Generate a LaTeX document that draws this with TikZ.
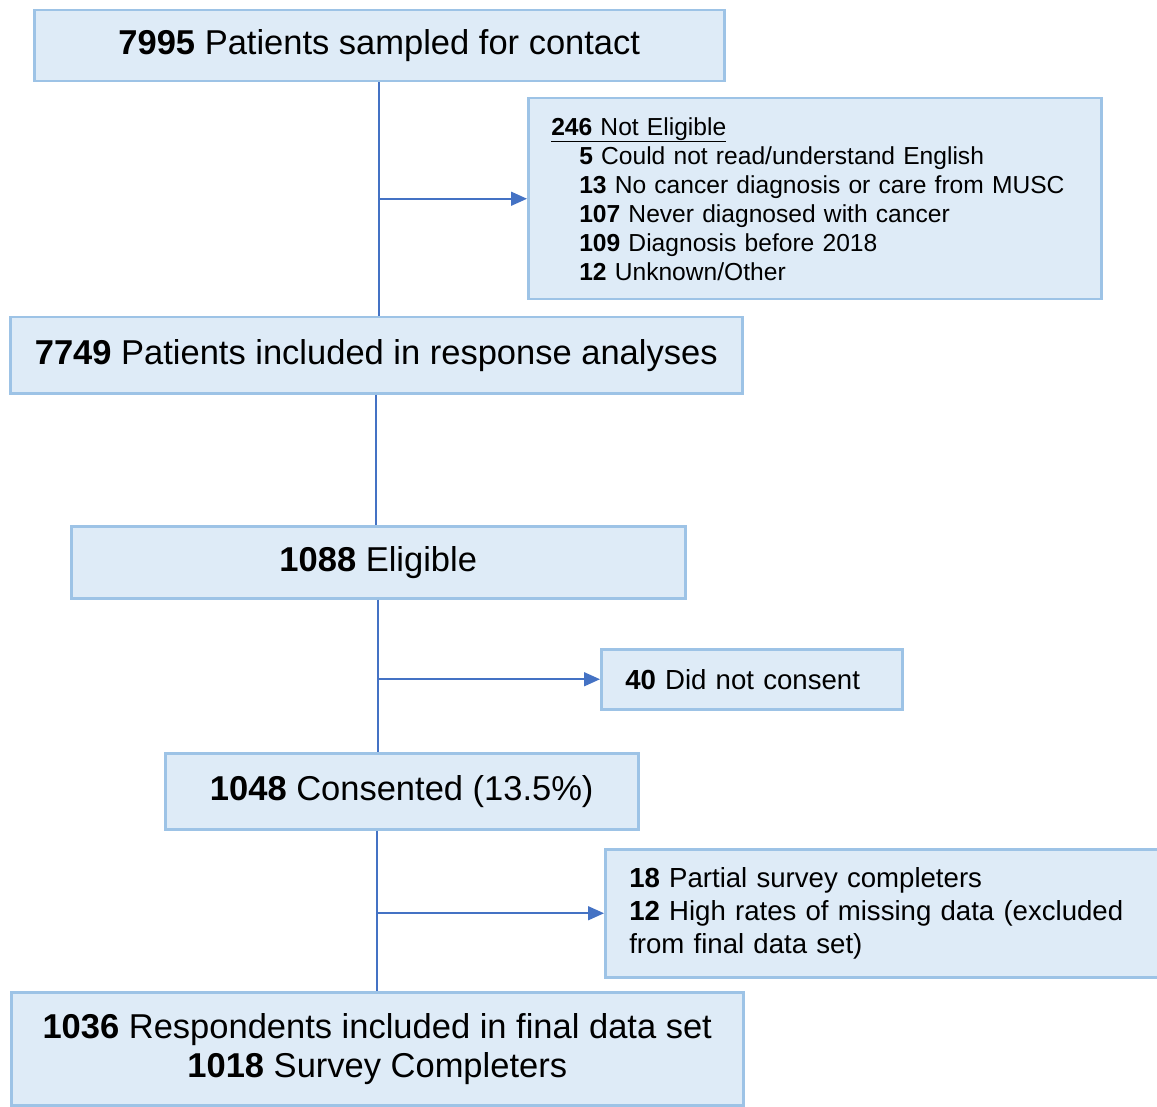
\documentclass[tikz,border=0pt]{standalone}
\usepackage{fontspec}
\setmainfont{Liberation Sans}
\usetikzlibrary{arrows.meta}
\definecolor{boxfill}{HTML}{DEEBF7}
\definecolor{boxline}{HTML}{9DC3E6}
\definecolor{flowline}{HTML}{4472C4}

\begin{document}
\begin{tikzpicture}[x=1pt,y=-1pt,
box/.style={draw=boxline, fill=boxfill, line width=2.5pt, inner sep=0pt,
    anchor=north west, align=center, font=\fontsize{34.5}{39}\selectfont},
side/.style={box, align=left, inner xsep=24pt},
flow/.style={draw=flowline, line width=1.6pt},
arr/.style={flow, -{Triangle[length=16pt,width=14pt]}}]
\useasboundingbox (0,0) rectangle (1157,1107);
% main column
\node[box, minimum width=690pt, minimum height=71pt] (sampled) at (33,9)
    {\textbf{7995} Patients sampled for contact};
\node[box, minimum width=732pt, minimum height=76pt] (included) at (9,316)
    {\textbf{7749} Patients included in response analyses};
\node[box, minimum width=614pt, minimum height=72pt] (eligible) at (70,525)
    {\textbf{1088} Eligible};
\node[box, minimum width=473pt, minimum height=76pt] (consented) at (164,752)
    {\textbf{1048} Consented (13.5\%)};
\node[box, minimum width=732pt, minimum height=113pt] (final) at (10,991)
    {\textbf{1036} Respondents included in final data set\\
     \textbf{1018} Survey Completers};
% side boxes
\node[side, inner xsep=23pt, text width=527pt, minimum height=201pt,
    font=\fontsize{24.6}{29}\selectfont] (notelig) at (527,97)
    {\underline{\textbf{246} Not Eligible}\\
     \hspace*{28pt}\textbf{5} Could not read/understand English\\
     \hspace*{28pt}\textbf{13} No cancer diagnosis or care from MUSC\\
     \hspace*{28pt}\textbf{107} Never diagnosed with cancer\\
     \hspace*{28pt}\textbf{109} Diagnosis before 2018\\
     \hspace*{28pt}\textbf{12} Unknown/Other};
\node[side, text width=253pt, minimum height=60pt,
    font=\fontsize{27.6}{33}\selectfont] (noconsent) at (600,648)
    {\textbf{40} Did not consent};
\node[side, text width=512pt, minimum height=128pt,
    font=\fontsize{27.6}{33}\selectfont] (partial) at (604,848)
    {\textbf{18} Partial survey completers\\
     \textbf{12} High rates of missing data (excluded\\
     from final data set)};
% connectors
\draw[flow] (sampled.south) -- (sampled.south |- included.north);
\draw[arr] (sampled.south |- notelig.west) -- (notelig.west);
\draw[flow] (included.south) -- (included.south |- eligible.north);
\draw[flow] (eligible.south) -- (eligible.south |- consented.north);
\draw[arr] (eligible.south |- noconsent.west) -- (noconsent.west);
\draw[flow] (final.north |- consented.south) -- (final.north);
\draw[arr] (final.north |- partial.west) -- (partial.west);
\end{tikzpicture}
\end{document}
